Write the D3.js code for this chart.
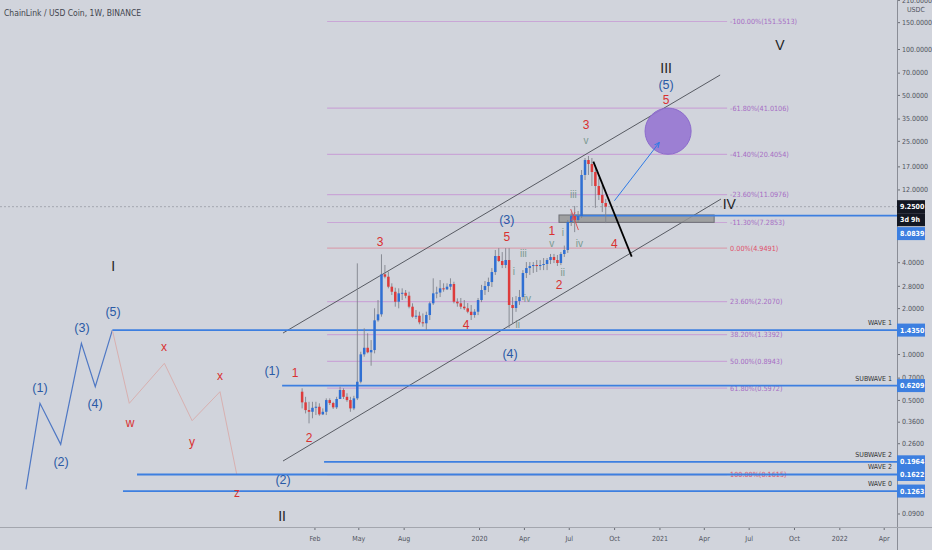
<!DOCTYPE html>
<html>
<head>
<meta charset="utf-8">
<script src="https://cdn.jsdelivr.net/npm/d3@7"></script>
<style>
  body { margin: 0; background: #d1d4dc; }
  svg { display: block; }
</style>
</head>
<body>
<script>
// Weekly LINK/USDC candles, first week starts 2019-01-07
var FIRST_WEEK = "2019-01-07";
var opens = [0.566,0.482,0.429,0.418,0.444,0.451,0.402,0.418,0.499,0.477,0.447,0.507,0.581,0.524,0.499,0.440,
  0.512,0.658,0.995,1.099,1.026,1.062,1.663,1.821,3.331,3.213,2.763,2.561,2.203,2.500,2.520,2.411,2.043,1.757,1.783,1.614,
  1.590,1.802,2.150,2.500,2.530,2.696,2.655,2.763,2.877,2.203,2.150,2.043,1.994,1.894,1.802,1.894,2.260,2.628,2.791,2.965,
  3.448,4.392,4.073,3.834,4.134,2.096,2.003,2.226,2.364,3.397,3.663,3.775,3.834,3.775,3.834,3.893,4.134,4.325,4.134,3.952,
  4.527,4.808,7.336,8.031,7.561,8.031,14.93,18.71,17.61,15.61,12.64,11.04,9.78];
var highs = [0.596,0.524,0.486,0.486,0.486,0.475,0.440,0.512,0.512,0.486,0.524,0.611,0.596,0.553,0.524,0.532,
  3.93,1.035,1.474,1.367,1.235,1.994,2.260,4.506,3.834,3.464,2.908,2.720,2.696,2.696,2.628,2.561,2.150,1.943,1.894,1.845,
  1.894,2.203,3.136,2.763,3.056,2.908,2.908,3.136,2.977,2.319,2.33,2.260,2.16,2.096,1.97,2.33,2.84,3.01,3.17,3.66,
  4.808,4.95,4.66,4.95,4.95,2.36,2.40,2.63,3.55,4.01,4.01,4.01,4.13,4.13,4.26,4.26,4.53,4.53,4.46,4.66,
  5.14,7.56,8.48,9.35,8.66,16.09,19.29,19.88,19.29,17.35,14.3,12.84,10.4];
var lows = [0.440,0.408,0.351,0.379,0.398,0.394,0.398,0.398,0.463,0.436,0.436,0.512,0.507,0.486,0.418,0.429,
  0.499,0.642,0.960,1.010,0.838,1.010,1.629,1.757,3.136,2.696,2.437,2.043,1.994,2.260,2.319,1.994,1.730,1.697,1.566,1.510,
  1.437,1.671,2.096,2.319,2.364,2.561,2.628,2.628,2.150,2.043,1.97,1.943,1.85,1.671,1.73,1.80,2.19,2.44,2.55,2.75,
  3.30,4.01,3.66,3.66,1.48,1.59,1.89,2.10,2.26,3.15,3.30,3.40,3.45,3.55,3.55,3.55,3.89,3.95,3.78,3.83,
  4.33,4.60,6.91,6.30,7.34,7.80,13.84,14.93,12.64,9.08,10.23,8.52,7.22];
var closes = [0.482,0.429,0.418,0.444,0.451,0.402,0.418,0.499,0.477,0.447,0.507,0.581,0.524,0.499,0.440,0.512,
  0.658,0.995,1.099,1.026,1.062,1.663,1.821,3.331,3.213,2.763,2.561,2.203,2.500,2.520,2.411,2.043,1.757,1.783,1.614,1.590,
  1.802,2.150,2.500,2.530,2.696,2.655,2.763,2.877,2.203,2.150,2.043,1.994,1.894,1.802,1.894,2.260,2.628,2.791,2.965,3.448,
  4.392,4.073,3.834,4.134,2.096,2.003,2.226,2.364,3.397,3.663,3.775,3.834,3.775,3.834,3.893,4.134,4.325,4.134,3.952,4.527,
  4.808,7.336,8.031,7.561,8.031,14.93,18.71,17.61,15.61,12.64,11.04,9.78,9.25];

// Fibonacci levels
var fibLevels = ["-100.00%","-61.80%","-41.40%","-23.60%","-11.30%","0.00%","23.60%","38.20%","50.00%","61.80%","100.00%"];
var fibPrices = [151.5513, 41.0106, 20.4054, 11.0976, 7.2853, 4.9491, 2.2070, 1.3392, 0.8943, 0.5972, 0.1615];
var fibSpan = [2019.156, 2021.378];

// Horizontal wave levels
var waveNames = ["WAVE 1", "SUBWAVE 1", "SUBWAVE 2", "WAVE 2", "WAVE 0"];
var wavePrices = [1.4350, 0.6209, 0.1964, 0.1622, 0.1263];
var waveStarts = [2017.963, 2018.906, 2019.139, 2018.100, 2018.022];

// Axis ticks (the ones not hidden behind the price boxes)
var priceTicks = [210, 150, 100, 70, 50, 35, 25, 17, 12, 4, 2.8, 2, 1, 0.7, 0.5, 0.36, 0.26, 0.09];
var dateTicks = ["2019-02-01","2019-05-01","2019-08-01","2020-01-01","2020-04-01","2020-07-01","2020-10-01",
  "2021-01-01","2021-04-01","2021-07-01","2021-10-01","2022-01-01","2022-04-01"];

// Drawn wave paths [decimal year, price]
var impulsePath = [[2017.483,0.1297],[2017.561,0.475],[2017.676,0.2557],[2017.791,1.175],[2017.868,0.6104],[2017.963,1.435]];
var correctivePath = [[2017.963,1.435],[2018.057,0.475],[2018.252,0.869],[2018.406,0.3653],[2018.561,0.566],[2018.654,0.1622]];
var channelUpper = [[2018.911,1.373],[2021.339,67.53]];
var channelLower = [[2018.911,0.1988],[2021.344,10.38]];
var dropPath = [[2020.635,18.24],[2020.848,4.346]];
var riseArrow = [[2020.752,10.12],[2021.002,24.45]];
var redMarks = [[[2020.509,8.93],[2020.552,6.50]], [[2020.511,7.45],[2020.533,8.53]]];
var zoneBox = [2020.444, 2021.306, 7.30, 8.16];
var targetSpan = [2020.922, 2021.178, 20.4054, 41.0106];
var lastPrice = 9.25, supportPrice = 8.0839, supportStart = 2020.509;

// Wave count labels [text, decimal year, price]
var romanLabels = [["I",2017.967,3.78],["II",2018.906,0.0866],["III",2021.039,75.07],["IV",2021.39,9.60],["V",2021.672,106.2]];
var blueLabels = [["(1)",2017.561,0.598],["(2)",2017.678,0.1957],["(3)",2017.794,1.481],["(4)",2017.867,0.470],["(5)",2017.967,1.886],
  ["(1)",2018.85,0.774],["(2)",2018.911,0.1492],["(3)",2020.154,7.6],["(4)",2020.172,1.0],["(5)",2021.039,58.07]];
var redLabels = [["w",2018.061,0.353],["x",2018.25,1.111],["y",2018.406,0.265],["x",2018.561,0.717],["z",2018.656,0.1226],
  ["1",2018.978,0.751],["2",2019.056,0.281],["3",2019.45,5.43],["4",2019.928,1.55],["5",2020.154,5.9],
  ["1",2020.404,6.43],["2",2020.444,2.835],["3",2020.594,31.74],["4",2020.752,5.32],["5",2021.039,46.3]];
var minorLabels = [["i",2020.194,3.465],["iii",2020.246,4.575],["iv",2020.268,2.318],["ii",2020.215,1.566],["v",2020.404,5.32],
  ["i",2020.465,6.28],["ii",2020.465,3.413],["iv",2020.557,5.32],["iii",2020.524,11.20],["v",2020.594,25.31]];

var WIDTH = 932, HEIGHT = 550;
var PLOT_W = 897, PLOT_H = 527;
var BLUE = "#3d7fe0";
var FONT = "'Liberation Sans', Arial, sans-serif";
var NARROW = "'Liberation Sans Narrow', 'DejaVu Sans Condensed', 'Liberation Sans', sans-serif";

function yr(v) {
  return new Date(Date.UTC(2020, 0, 1) + (v - 2020) * 365.25 * 86400000);
}

var x = d3.scaleUtc()
  .domain([new Date("2017-05-04"), new Date("2022-04-28")])
  .range([0, PLOT_W]);
var y = d3.scaleLog()
  .domain([0.0734, 209.6])
  .range([PLOT_H, 0]);

var svg = d3.select("body").append("svg")
  .attr("width", WIDTH)
  .attr("height", HEIGHT)
  .style("background-color", "#d1d4dc")
  .style("font-family", FONT);

svg.append("clipPath").attr("id", "plot")
  .append("rect").attr("width", PLOT_W).attr("height", PLOT_H);

var plot = svg.append("g").attr("clip-path", "url(#plot)");
var line = d3.line().x(function(d) { return x(yr(d[0])); }).y(function(d) { return y(d[1]); });

// fib retracement lines + labels
fibPrices.forEach(function(p, i) {
  var red = fibLevels[i] === "0.00%" || fibLevels[i] === "100.00%";
  plot.append("line")
    .attr("x1", x(yr(fibSpan[0]))).attr("x2", x(yr(fibSpan[1])))
    .attr("y1", y(p)).attr("y2", y(p))
    .attr("stroke", red ? "#d7a2b0" : "#c9a6d6").attr("stroke-width", 1.2);
  plot.append("text")
    .attr("x", x(yr(fibSpan[1])) + 3).attr("y", y(p))
    .attr("dy", "0.35em")
    .attr("font-size", 7.2)
    .attr("font-family", NARROW)
    .attr("fill", red ? "#e0506a" : "#a66cc4")
    .text(fibLevels[i] + "(" + p.toFixed(4) + ")");
});

// last price dotted line
plot.append("line")
  .attr("x1", 0).attr("x2", PLOT_W)
  .attr("y1", y(lastPrice)).attr("y2", y(lastPrice))
  .attr("stroke", "#9a9da6").attr("stroke-width", 0.8)
  .attr("stroke-dasharray", "2,2");

// left-hand wave sketches
plot.append("path").attr("d", line(impulsePath))
  .attr("fill", "none").attr("stroke", "#4f78c4").attr("stroke-width", 1.2);
plot.append("path").attr("d", line(correctivePath))
  .attr("fill", "none").attr("stroke", "#d8b0b0").attr("stroke-width", 1);

// channel
[channelUpper, channelLower].forEach(function(c) {
  plot.append("path").attr("d", line(c))
    .attr("fill", "none").attr("stroke", "#4a4d55").attr("stroke-width", 0.9);
});

// horizontal wave levels
wavePrices.forEach(function(p, i) {
  plot.append("line")
    .attr("x1", x(yr(waveStarts[i]))).attr("x2", PLOT_W)
    .attr("y1", y(p)).attr("y2", y(p))
    .attr("stroke", BLUE).attr("stroke-width", 1.8);
  svg.append("text")
    .attr("x", PLOT_W - 5).attr("y", y(p) - 5)
    .attr("text-anchor", "end")
    .attr("font-size", 7)
    .attr("font-family", NARROW)
    .attr("fill", "#333")
    .text(waveNames[i]);
});

// gray zone
plot.append("rect")
  .attr("x", x(yr(zoneBox[0])))
  .attr("width", x(yr(zoneBox[1])) - x(yr(zoneBox[0])))
  .attr("y", y(zoneBox[3]))
  .attr("height", y(zoneBox[2]) - y(zoneBox[3]))
  .attr("fill", "rgba(150,150,150,0.85)")
  .attr("stroke", "#6d6f75").attr("stroke-width", 1);

// support line
plot.append("line")
  .attr("x1", x(yr(supportStart))).attr("x2", PLOT_W)
  .attr("y1", y(supportPrice)).attr("y2", y(supportPrice))
  .attr("stroke", BLUE).attr("stroke-width", 1.8);

// candles
var week0 = new Date(FIRST_WEEK);
var candles = closes.map(function(c, i) {
  return { t: d3.utcWeek.offset(week0, i), o: opens[i], h: highs[i], l: lows[i], c: c };
});
var cg = plot.append("g");
cg.selectAll("line.wick").data(candles).enter().append("line")
  .attr("class", "wick")
  .attr("x1", function(d) { return x(d.t); }).attr("x2", function(d) { return x(d.t); })
  .attr("y1", function(d) { return y(d.h); }).attr("y2", function(d) { return y(d.l); })
  .attr("stroke", "#80838c").attr("stroke-width", 0.9);
cg.selectAll("rect.body").data(candles).enter().append("rect")
  .attr("class", "body")
  .attr("x", function(d) { return x(d.t) - 1.25; })
  .attr("width", 2.5)
  .attr("y", function(d) { return y(Math.max(d.o, d.c)); })
  .attr("height", function(d) { return Math.max(1, Math.abs(y(d.o) - y(d.c))); })
  .attr("fill", function(d) { return d.c >= d.o ? "#2f6fd3" : "#dd3b3b"; });

// red marks near the box
redMarks.forEach(function(m) {
  plot.append("path").attr("d", line(m))
    .attr("fill", "none").attr("stroke", "#e0484d").attr("stroke-width", 0.9);
});

// projected drop
plot.append("path").attr("d", line(dropPath))
  .attr("fill", "none").attr("stroke", "#000").attr("stroke-width", 1.8);

// target circle
var tx0 = x(yr(targetSpan[0])), tx1 = x(yr(targetSpan[1]));
var ty0 = y(targetSpan[2]), ty1 = y(targetSpan[3]);
plot.append("ellipse")
  .attr("cx", (tx0 + tx1) / 2).attr("cy", (ty0 + ty1) / 2)
  .attr("rx", (tx1 - tx0) / 2).attr("ry", (ty0 - ty1) / 2)
  .attr("fill", "rgba(150,118,210,0.9)")
  .attr("stroke", "#8c6bcc").attr("stroke-width", 1);

// blue arrow
svg.append("defs").append("marker")
  .attr("id", "arrow").attr("viewBox", "0 0 10 10")
  .attr("refX", 9).attr("refY", 5)
  .attr("markerWidth", 6).attr("markerHeight", 6)
  .attr("orient", "auto")
  .append("path").attr("d", "M0,1 L9,5 L0,9").attr("fill", "none")
  .attr("stroke", "#2f7be6").attr("stroke-width", 1.5);
plot.append("path").attr("d", line(riseArrow))
  .attr("fill", "none").attr("stroke", "#2f7be6").attr("stroke-width", 1)
  .attr("marker-end", "url(#arrow)");

// wave labels
function labels(list, color, size) {
  list.forEach(function(l) {
    plot.append("text")
      .attr("x", x(yr(l[1]))).attr("y", y(l[2]))
      .attr("dy", "0.35em")
      .attr("text-anchor", "middle")
      .attr("font-size", size)
      .attr("fill", color)
      .text(l[0]);
  });
}
labels(minorLabels, "#7a9a90", 10);
labels(redLabels, "#d93030", 12);
labels(blueLabels, "#2a5aa6", 12.5);
labels(romanLabels, "#1e1e24", 14);

// axes
var yAxis = svg.append("g")
  .attr("transform", "translate(" + PLOT_W + ",0)")
  .call(d3.axisRight(y).tickValues(priceTicks).tickFormat(d3.format(".4f")).tickSize(3).tickPadding(2));
var xAxis = svg.append("g")
  .attr("transform", "translate(0," + PLOT_H + ")")
  .call(d3.axisBottom(x)
    .tickValues(dateTicks.map(function(d) { return new Date(d); }))
    .tickFormat(function(d) { return d.getUTCMonth() === 0 ? d3.utcFormat("%Y")(d) : d3.utcFormat("%b")(d); })
    .tickSize(3).tickPadding(6));
[yAxis, xAxis].forEach(function(a) {
  a.selectAll("text").attr("fill", "#50535c").attr("font-size", 7).attr("font-family", NARROW);
  a.selectAll(".tick line").attr("stroke", "#6a6d75");
  a.select(".domain").remove();
});
svg.append("line").attr("x1", PLOT_W + 0.5).attr("x2", PLOT_W + 0.5).attr("y1", 0).attr("y2", HEIGHT)
  .attr("stroke", "#8a8d96");
svg.append("line").attr("x1", 0).attr("x2", WIDTH).attr("y1", PLOT_H + 0.5).attr("y2", PLOT_H + 0.5)
  .attr("stroke", "#a3a6ae");

svg.append("text").attr("x", 907).attr("y", 12)
  .attr("font-size", 7).attr("font-family", NARROW).attr("fill", "#50535c").text("USDC");

// price boxes on the axis
function priceBox(p, txt, color, dyOff) {
  var yy = y(p) + (dyOff || 0);
  svg.append("rect")
    .attr("x", PLOT_W).attr("y", yy - 6.5)
    .attr("width", 28).attr("height", 13)
    .attr("fill", color);
  svg.append("text")
    .attr("x", PLOT_W + 3).attr("y", yy)
    .attr("dy", "0.35em")
    .attr("font-size", 7).attr("font-weight", "bold")
    .attr("font-family", NARROW)
    .attr("fill", "#fff")
    .text(txt);
}
wavePrices.forEach(function(p) { priceBox(p, p.toFixed(4), BLUE); });
priceBox(lastPrice, lastPrice.toFixed(4), "#131722");
priceBox(lastPrice, "3d 9h", "#131722", 13);
priceBox(supportPrice, supportPrice.toFixed(4), BLUE, 18);

// title
svg.append("text")
  .attr("x", 4).attr("y", 16)
  .attr("font-size", 8.5)
  .attr("font-family", NARROW)
  .attr("fill", "#43464e")
  .text("ChainLink / USD Coin, 1W, BINANCE");
</script>
</body>
</html>
